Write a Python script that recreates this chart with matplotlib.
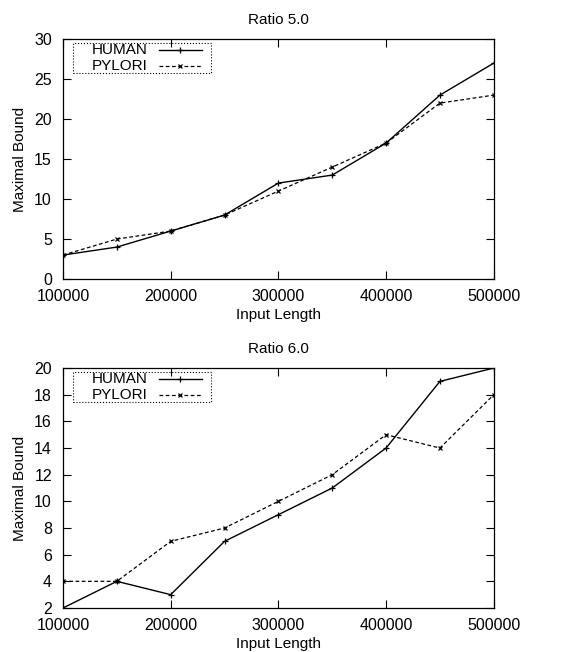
import matplotlib
matplotlib.use("Agg")
import matplotlib.pyplot as plt
from matplotlib.patches import Rectangle

plt.rcParams['font.family'] = ['Liberation Sans', 'DejaVu Sans']

x = [100000, 150000, 200000, 250000, 300000, 350000, 400000, 450000, 500000]
human_5 = [3, 4, 6, 8, 12, 13, 17, 23, 27]
pylori_5 = [3, 5, 6, 8, 11, 14, 17, 22, 23]
human_6 = [2, 4, 3, 7, 9, 11, 14, 19, 20]
pylori_6 = [4, 4, 7, 8, 10, 12, 15, 14, 18]
xticks = [100000, 200000, 300000, 400000, 500000]
series_names = ['HUMAN', 'PYLORI']

fig = plt.figure(figsize=(5.79, 6.52), dpi=100)
ax1 = fig.add_axes([0.1088, 0.572, 0.744, 0.368])
ax2 = fig.add_axes([0.1088, 0.0675, 0.744, 0.368])

human_style = dict(color='black', lw=1, marker='+', ms=4.5, mew=0.9)
pylori_style = dict(color='black', lw=0.9, ls=(0, (3, 2)), marker='x', ms=3.5, mew=0.9)

def style(ax, title, ylim, yticks):
    ax.set_xlim(100000, 500000)
    ax.set_ylim(*ylim)
    ax.set_xticks(xticks)
    ax.set_xticklabels([str(v) for v in xticks])
    ax.set_yticks(yticks)
    ax.tick_params(direction='in', top=True, right=True, labelsize=11.5, length=6, width=0.8)
    ax.tick_params(axis='x', pad=7)
    ax.tick_params(axis='y', pad=8)
    ax.set_title(title, fontsize=11, pad=11)
    ax.set_xlabel('Input Length', fontsize=11, labelpad=3)
    ax.set_ylabel('Maximal Bound', fontsize=11, labelpad=5)
    for s in ax.spines.values():
        s.set_linewidth(0.9)
    # legend box (gnuplot style)
    ax.add_patch(Rectangle((0.0232, 0.857), 0.3202, 0.127, transform=ax.transAxes,
                           fill=False, ec='black', ls=':', lw=0.8, clip_on=False, zorder=5))
    rows = [(0.953, human_style), (0.886, pylori_style)]
    for name, (yy, st) in zip(series_names, rows):
        ax.text(0.0673, yy, name, transform=ax.transAxes, fontsize=11,
                ha='left', va='center', zorder=6)
        ax.plot([0.2227, 0.3225], [yy, yy], transform=ax.transAxes, clip_on=False,
                **{k: v for k, v in st.items() if k not in ('marker', 'ms', 'mew')})
        ax.plot([0.2726], [yy], transform=ax.transAxes, clip_on=False, ls='none',
                color='black', marker=st['marker'], ms=st['ms'], mew=st['mew'])

ax1.plot(x, human_5, label='HUMAN', **human_style)
ax1.plot(x, pylori_5, label='PYLORI', **pylori_style)
style(ax1, 'Ratio 5.0', (0, 30), range(0, 31, 5))

ax2.plot(x, human_6, label='HUMAN', **human_style)
ax2.plot(x, pylori_6, label='PYLORI', **pylori_style)
style(ax2, 'Ratio 6.0', (2, 20), range(2, 21, 2))

fig.savefig('out.png', dpi=100)
